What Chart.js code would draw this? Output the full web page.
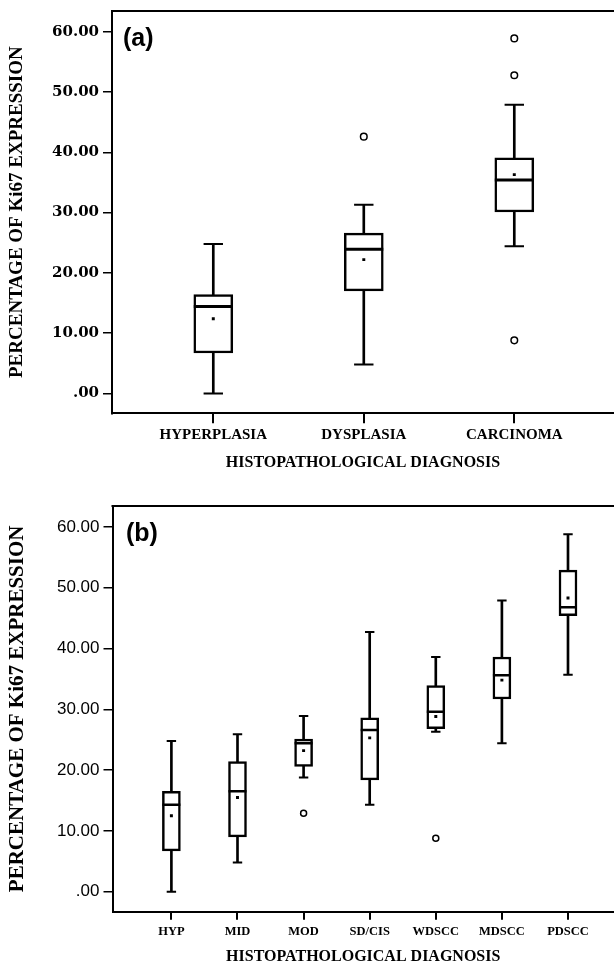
<!DOCTYPE html>
<html>
<head>
<meta charset="utf-8">
<script src="https://cdn.jsdelivr.net/npm/chart.js@4.4.1/dist/chart.umd.min.js"></script>
<style>
  body { margin: 0; background: #fff; }
  canvas { position: absolute; left: 0; }
</style>
</head>
<body>
<canvas id="chartA" width="614" height="483" style="top:0"></canvas>
<canvas id="chartB" width="614" height="483" style="top:483px"></canvas>
<script>
// shared axis stuff
const yTicks = [0, 10, 20, 30, 40, 50, 60]
const yTickLabels = [".00", "10.00", "20.00", "30.00", "40.00", "50.00", "60.00"]
const yTitle = "PERCENTAGE OF Ki67 EXPRESSION"
const xTitle = "HISTOPATHOLOGICAL DIAGNOSIS"

// panel (a)
const catsA = ["HYPERPLASIA", "DYSPLASIA", "CARCINOMA"]
const minA = [0, 4.8, 24.4]
const q1A = [6.7, 17.0, 30.1]
const medA = [14.4, 23.9, 35.4]
const q3A = [16.4, 26.6, 39.1]
const maxA = [24.8, 31.3, 47.9]
const meanA = [12.4, 22.2, 36.3]
const outA = [[], [42.6], [58.9, 52.8, 8.8]]

// panel (b)
const catsB = ["HYP", "MID", "MOD", "SD/CIS", "WDSCC", "MDSCC", "PDSCC"]
const minB = [0, 4.8, 18.8, 14.3, 26.3, 24.4, 35.7]
const q1B = [6.7, 9.0, 20.6, 18.4, 26.8, 31.7, 45.4]
const medB = [14.3, 16.5, 24.4, 26.6, 29.6, 35.6, 46.8]
const q3B = [16.5, 21.4, 25.1, 28.6, 33.9, 38.6, 52.9]
const maxB = [24.8, 25.9, 28.9, 42.7, 38.6, 47.9, 58.8]
const meanB = [12.5, 15.5, 23.2, 25.3, 28.8, 34.8, 48.3]
const outB = [[], [], [12.9], [], [8.8], [], []]

// top line of the frame + the (a)/(b) tag
const frameTop = {
  id: "frameTop",
  afterDraw(chart, args, opts) {
    const { ctx, chartArea: a } = chart
    ctx.save()
    ctx.strokeStyle = "#000"
    ctx.lineWidth = 2
    ctx.beginPath()
    ctx.moveTo(a.left - 1, a.top)
    ctx.lineTo(a.right, a.top)
    ctx.stroke()
    ctx.fillStyle = "#000"
    ctx.font = "bold 25px 'Liberation Sans', Arial, sans-serif"
    ctx.textBaseline = "middle"
    ctx.fillText(opts.tag, a.left + opts.dx, a.top + opts.dy)
    ctx.restore()
  }
}

function boxChart(id, o) {
  const xs = o.cats.map((c, i) => i + 1)
  const pts = (arr) => arr.map((v, i) => ({ x: xs[i], y: v }))
  const outPts = []
  o.out.forEach((list, i) => list.forEach((v) => outPts.push({ x: xs[i], y: v })))

  return new Chart(document.getElementById(id), {
    type: "bar",
    data: {
      datasets: [
        {
          label: "upper whisker",
          data: xs.map((x, i) => ({ x, y: [o.q3[i], o.max[i]] })),
          backgroundColor: "#000",
          borderWidth: 0,
          barThickness: o.whisker,
          grouped: false,
          order: 6
        },
        {
          label: "lower whisker",
          data: xs.map((x, i) => ({ x, y: [o.min[i], o.q1[i]] })),
          backgroundColor: "#000",
          borderWidth: 0,
          barThickness: o.whisker,
          grouped: false,
          order: 5
        },
        {
          label: "box",
          data: xs.map((x, i) => ({ x, y: [o.q1[i], o.q3[i]] })),
          backgroundColor: "#fff",
          borderColor: "#000",
          borderWidth: o.boxLine,
          borderSkipped: false,
          barThickness: o.boxWidth,
          grouped: false,
          order: 4
        },
        {
          type: "scatter",
          label: "caps",
          data: pts(o.min).concat(pts(o.max)),
          pointStyle: "line",
          pointRadius: o.capHalf,
          borderColor: "#000",
          borderWidth: 2,
          order: 3
        },
        {
          type: "scatter",
          label: "median",
          data: pts(o.med),
          pointStyle: "line",
          pointRadius: o.boxWidth / 2,
          borderColor: "#000",
          borderWidth: o.medLine,
          order: 2
        },
        {
          type: "scatter",
          label: "mean",
          data: pts(o.mean),
          pointStyle: "rect",
          pointRadius: 2.1,
          backgroundColor: "#000",
          borderWidth: 0,
          order: 1
        },
        {
          type: "scatter",
          label: "outliers",
          data: outPts,
          pointStyle: "circle",
          pointRadius: o.outR,
          backgroundColor: "#fff",
          borderColor: "#000",
          borderWidth: 1.5,
          order: 0
        }
      ]
    },
    options: {
      responsive: false,
      animation: false,
      events: [],
      layout: { autoPadding: false, padding: { top: o.top, right: 0, bottom: 0, left: 0 } },
      plugins: {
        legend: { display: false },
        tooltip: { enabled: false },
        frameTop: { tag: o.tag, dx: o.tagDx, dy: 28 }
      },
      scales: {
        x: {
          type: "linear",
          min: o.xMin,
          max: o.xMax,
          offset: false,
          afterBuildTicks: (s) => { s.ticks = xs.map((v) => ({ value: v })) },
          afterFit: (s) => { s.height = o.xAxisH; s.paddingLeft = 0; s.paddingRight = 0 },
          ticks: {
            autoSkip: false,
            maxRotation: 0,
            padding: o.xPad,
            color: "#000",
            font: { family: "'Liberation Serif', serif", weight: "bold", size: o.xTickSize },
            callback: (v) => o.cats[v - 1]
          },
          grid: { drawOnChartArea: false, drawTicks: true, tickLength: o.xTickLen, color: "#000", lineWidth: 2, offset: false },
          border: { display: true, color: "#000", width: 2 },
          title: {
            display: true,
            text: xTitle,
            color: "#000",
            font: { family: "'Liberation Serif', serif", weight: "bold", size: 16 },
            padding: { top: 0, bottom: o.xTitlePad }
          }
        },
        y: {
          min: -3.3,
          max: 63.45,
          afterBuildTicks: (s) => { s.ticks = yTicks.map((v) => ({ value: v })) },
          afterFit: (s) => { s.width = o.yAxisW; s.paddingTop = 0; s.paddingBottom = 0 },
          ticks: {
            padding: 4,
            color: "#000",
            font: o.yTickFont,
            callback: (v) => yTickLabels[yTicks.indexOf(v)]
          },
          grid: { drawOnChartArea: false, drawTicks: true, tickLength: 9, color: "#000", lineWidth: 1.5 },
          border: { display: true, color: "#000", width: 2 },
          title: {
            display: true,
            text: yTitle,
            color: "#000",
            font: { family: "'Liberation Serif', serif", weight: "bold", size: o.yTitleSize },
            padding: { top: o.yTitlePad, bottom: 0 }
          }
        }
      }
    },
    plugins: [frameTop]
  })
}

boxChart("chartA", {
  cats: catsA, min: minA, q1: q1A, med: medA, q3: q3A, max: maxA, mean: meanA, out: outA,
  tag: "(a)", tagDx: 11,
  top: 11, xMin: 0.327, xMax: 3.6625, xAxisH: 69.7, xPad: 3, xTickLen: 10, xTickSize: 15, xTitlePad: 10.4,
  yAxisW: 112, yTitleSize: 19, yTitlePad: 6,
  yTickFont: { family: "'DejaVu Serif', serif", weight: "bold", size: 15 },
  whisker: 2, boxWidth: 39, boxLine: 2.5, capHalf: 9.7, medLine: 3, outR: 3.3
})

boxChart("chartB", {
  cats: catsB, min: minB, q1: q1B, med: medB, q3: q3B, max: maxB, mean: meanB, out: outB,
  tag: "(b)", tagDx: 13.5,
  top: 23, xMin: 0.109, xMax: 7.696, xAxisH: 54.3, xPad: 5, xTickLen: 8, xTickSize: 12.5, xTitlePad: 0,
  yAxisW: 112.5, yTitleSize: 21, yTitlePad: 5,
  yTickFont: { family: "'Liberation Sans', Arial, sans-serif", size: 17 },
  whisker: 2, boxWidth: 18, boxLine: 2.5, capHalf: 4.7, medLine: 2.5, outR: 3
})
</script>
</body>
</html>
